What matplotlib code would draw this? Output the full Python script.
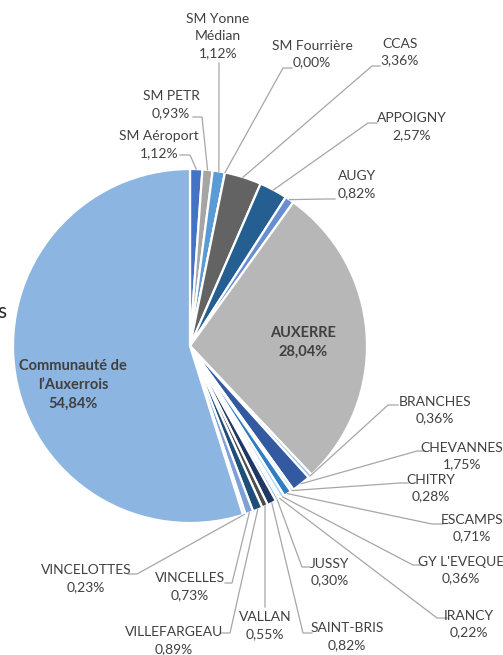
import matplotlib.pyplot as plt
import numpy as np

plt.rcParams['font.family'] = ['Lato', 'DejaVu Sans']

W, H = 503, 655

# ---- data (clockwise from 12 o'clock) ----
names = ["SM Aéroport", "SM PETR", "SM Yonne\nMédian", "SM Fourrière", "CCAS",
         "APPOIGNY", "AUGY", "AUXERRE", "BRANCHES", "CHEVANNES", "CHITRY",
         "ESCAMPS", "GY L'EVEQUE", "IRANCY", "JUSSY", "SAINT-BRIS", "VALLAN",
         "VILLEFARGEAU", "VINCELLES", "VINCELOTTES", "Communauté de\nl’Auxerrois"]
shares = [1.12, 0.93, 1.12, 0.00, 3.36,
          2.57, 0.82, 28.04, 0.36, 1.75, 0.28,
          0.71, 0.36, 0.22, 0.30, 0.82, 0.55,
          0.89, 0.73, 0.23, 54.84]
colors = ["#4472C4", "#A5A5A5", "#5B9BD5", "#264478", "#636363",
          "#255E91", "#698ED0", "#B7B7B7", "#9DC3E6", "#335AA1", "#BDD7EE",
          "#327DC2", "#A9D1F7", "#8FAADC", "#7CAFDD", "#203864", "#4D4D4D",
          "#1F4E79", "#7F9FD7", "#A9C4EB", "#8DB5E1"]

# label layout in pixels: text centre, knee of leader, end of leader
label_pos = {
    "SM Aéroport": ((159, 144.5), (190, 155), (180, 155)),
    "SM PETR": ((171, 105), (202, 117), (193, 117)),
    "SM Yonne\nMédian": ((218, 36), (219, 63), (219, 63)),
    "SM Fourrière": ((312, 54), (283, 68), (292, 68)),
    "CCAS": ((400, 52), (372, 66), (380, 66)),
    "APPOIGNY": ((412, 127), (368, 123), (377, 123)),
    "AUGY": ((357, 185), (325, 199), (335, 199)),
    "BRANCHES": ((435, 410), (388, 405), (398, 405)),
    "CHEVANNES": ((462, 456), (417, 451), (425, 451)),
    "CHITRY": ((431, 488), (400, 483), (408, 483)),
    "ESCAMPS": ((472, 528), (432, 524), (443, 524)),
    "GY L'EVEQUE": ((461, 570), (413, 565), (423, 565)),
    "IRANCY": ((469, 624), (437, 618), (447, 618)),
    "JUSSY": ((330, 572), (302, 567), (310, 567)),
    "SAINT-BRIS": ((347, 637), (303, 633), (312, 633)),
    "VALLAN": ((265, 625.5), (265, 607), (265, 607)),
    "VILLEFARGEAU": ((174, 641), (230, 633), (220, 633)),
    "VINCELLES": ((190, 587), (232, 583), (225, 583)),
    "VINCELOTTES": ((86, 579), (137, 574), (128, 574)),
}
inside_pos = {"AUXERRE": (303, 342.5), "Communauté de\nl’Auxerrois": (73, 385)}

cx, cy, r = 190, 346, 177


def py(y):
    return H - y


fig = plt.figure(figsize=(W / 100, H / 100), dpi=100)
ax = fig.add_axes([0, 0, 1, 1])
ax.pie(shares, colors=colors, startangle=90, counterclock=False,
       center=(cx, py(cy)), radius=r,
       wedgeprops=dict(edgecolor='white', linewidth=1.6))
ax.set_xlim(0, W)
ax.set_ylim(0, H)
ax.set_aspect('equal')
ax.axis('off')

fmt = lambda v: f"{v:.2f}%".replace('.', ',')
cum = np.cumsum([0] + shares[:-1])
for name, v, c0 in zip(names, shares, cum):
    txt = f"{name}\n{fmt(v)}"
    if name in inside_pos:
        x, y = inside_pos[name]
        ax.text(x, py(y), txt, ha='center', va='center', fontsize=10.5,
                fontweight='bold', color='#404040', linespacing=1.45)
        continue
    (tx, ty), (kx, ky), (ex, ey) = label_pos[name]
    ang = np.deg2rad(360 * (c0 + v / 2) / 100)
    sx, sy = cx + r * np.sin(ang), cy - r * np.cos(ang)
    ax.plot([sx, kx, ex], [py(sy), py(ky), py(ey)], color='#A6A6A6', lw=0.9)
    ax.text(tx, py(ty), txt, ha='center', va='center', fontsize=10,
            color='#404040', linespacing=1.5)

# cut-off text at the left border
ax.text(6, py(312), "s", ha='right', va='center', fontsize=15, color='#262626')

fig.savefig("out.png", dpi=100)
